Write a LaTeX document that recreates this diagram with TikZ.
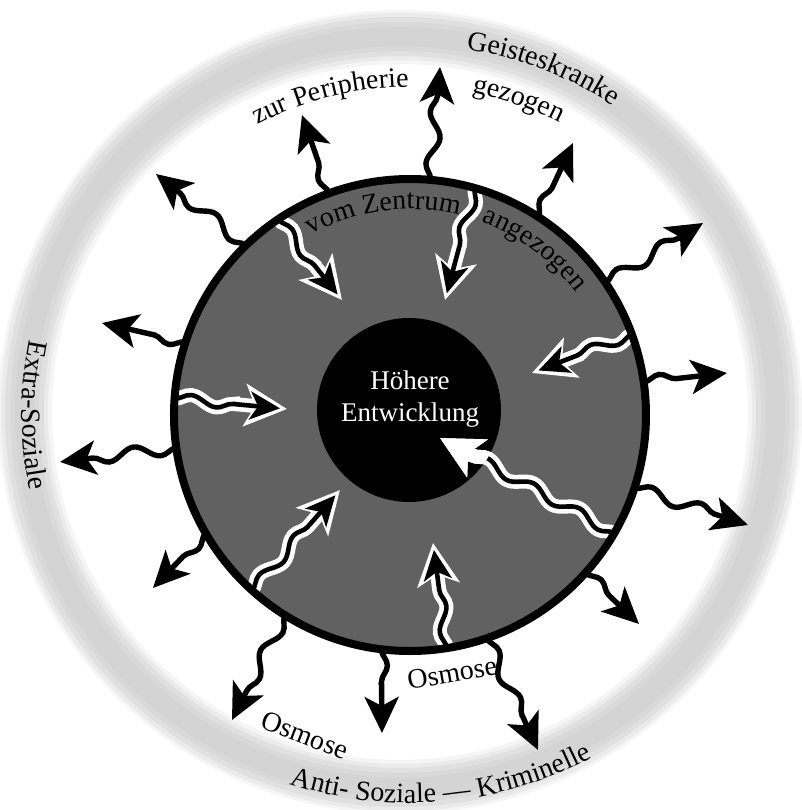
\documentclass[tikz,border=0pt]{standalone}
\usepackage{fontspec}
\setmainfont{Liberation Serif}
\usepackage{tikz}
\usetikzlibrary{arrows.meta, decorations.pathmorphing, decorations.text}

\newcommand{\ringfont}{\fontsize{14}{16}\selectfont}

\begin{document}
\begin{tikzpicture}[x=0.5pt, y=0.5pt,
	aus/.style={line width=2.7pt, -{Stealth[length=18pt, width=17pt, inset=4.5pt]},
		decorate, decoration={snake, amplitude=3pt, segment length=26pt, post length=14pt}},
	ein/.style={line width=2.3pt, shorten >=3.5pt, -{Stealth[length=15pt, width=14pt, inset=4pt]},
		decorate, decoration={snake, amplitude=2.5pt, segment length=26pt, post length=17pt},
		preaction={draw=white, line width=7pt, shorten >=0pt, -{Stealth[length=21pt, width=21pt, inset=5pt]}}},
	bogen/.style={decorate, decoration={text along path, text align=center, text={#1}}}]
	\useasboundingbox (-410,-395) rectangle (392,415);

	\fill[black!4, even odd rule] (-10,3) circle[radius=402] circle[radius=348];
	\fill[black!8, even odd rule] (-10,3) circle[radius=399] circle[radius=352];
	\fill[black!12, even odd rule] (-10,3) circle[radius=395] circle[radius=356];
	\fill[black!15, even odd rule] (-10,3) circle[radius=390] circle[radius=361];
	\fill[black!17, even odd rule] (-10,3) circle[radius=385] circle[radius=366];

	\node[circle, fill=black!62, minimum size=236pt, inner sep=0pt, outer sep=0pt] (zone) at (0,0) {};
	\node[circle, fill=black, minimum size=92pt, inner sep=0pt] (kern) at (-1,5) {};
	\node[white, align=center, font=\fontsize{13.5}{16}\selectfont] (titel) at (0,16) {Höhere\\Entwicklung};

	\coordinate (ziel1) at (-68,115);
	\coordinate (ziel2) at (35,115);
	\coordinate (ziel3) at (122,42);
	\coordinate (ziel4) at (-123,6);
	\coordinate (ziel5) at (-70,-75);
	\coordinate (ziel6) at (23,-128);
	\coordinate (ziel7) at (30,-23);

	\draw[ein] (zone.124) -- (ziel1);
	\draw[ein] (zone.74) -- (ziel2);
	\draw[ein] (zone.20) -- (ziel3);
	\draw[ein] (zone.176) -- (ziel4);
	\draw[ein] (zone.-132) -- (ziel5);
	\draw[ein] (zone.-81) -- (ziel6);
	\draw[ein] (zone.-30) -- (ziel7);
	\begin{scope}
		\clip (kern.center) circle[radius=92];
		\draw[ein, draw=white] (zone.-30) -- (ziel7);
	\end{scope}

	\draw[line width=4pt] (zone.center) circle[radius=236];

	\coordinate (spitze1) at (-108,300);
	\coordinate (spitze2) at (30,348);
	\coordinate (spitze3) at (163,272);
	\coordinate (spitze4) at (293,192);
	\coordinate (spitze5) at (317,42);
	\coordinate (spitze6) at (338,-110);
	\coordinate (spitze7) at (229,-209);
	\coordinate (spitze8) at (128,-335);
	\coordinate (spitze9) at (-28,-318);
	\coordinate (spitze10) at (-178,-305);
	\coordinate (spitze11) at (-257,-173);
	\coordinate (spitze12) at (-350,-47);
	\coordinate (spitze13) at (-308,92);
	\coordinate (spitze14) at (-254,241);

	\draw[aus] (zone.110) -- (spitze1);
	\draw[aus] (zone.85) -- (spitze2);
	\draw[aus] (zone.57) -- (spitze3);
	\draw[aus] (zone.34) -- (spitze4);
	\draw[aus] (zone.8) -- (spitze5);
	\draw[aus] (zone.-18) -- (spitze6);
	\draw[aus] (zone.-42) -- (spitze7);
	\draw[aus] (zone.-71) -- (spitze8);
	\draw[aus] (zone.-97) -- (spitze9);
	\draw[aus] (zone.-122) -- (spitze10);
	\draw[aus] (zone.-150) -- (spitze11);
	\draw[aus] (zone.-172) -- (spitze12);
	\draw[aus] (zone.162) -- (spitze13);
	\draw[aus] (zone.134) -- (spitze14);

	\path[bogen={|\ringfont|Geisteskranke}] (0,0) ++(94:370) arc[start angle=94, end angle=44, radius=370];
	\path[bogen={|\ringfont|zur Peripherie}] (0,0) ++(132:328) arc[start angle=132, end angle=76, radius=328];
	\path[bogen={|\ringfont|gezogen}] (0,0) ++(92:328) arc[start angle=92, end angle=50, radius=328];
	\path[bogen={|\ringfont|vom Zentrum}] (0,0) ++(124:206) arc[start angle=124, end angle=71, radius=206];
	\path[bogen={|\ringfont|angezogen}] (0,0) ++(80:206) arc[start angle=80, end angle=26, radius=206];
	\path[bogen={|\ringfont|Extra-Soziale}] (0,0) ++(148:388) arc[start angle=148, end angle=212, radius=388];
	\path[bogen={|\ringfont|Anti- Soziale — Kriminelle}] (0,0) ++(228:388) arc[start angle=228, end angle=322, radius=388];

	\node[rotate=-21, font=\ringfont] (osmose1) at (-105,-320) {Osmose};
	\node[rotate=10, font=\ringfont] (osmose2) at (42,-258) {Osmose};
\end{tikzpicture}
\end{document}
